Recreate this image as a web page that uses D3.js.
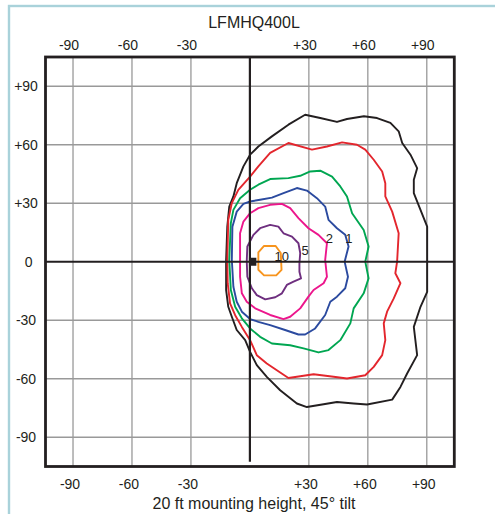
<!DOCTYPE html>
<html>
<head>
<meta charset="utf-8">
<script src="https://cdn.jsdelivr.net/npm/d3@7"></script>
<style>
  html, body { margin: 0; padding: 0; background: #fff; }
  svg { display: block; }
  text { font-family: "Liberation Sans", Arial, sans-serif; fill: #231f20; }
</style>
</head>
<body>
<svg id="chart" width="495" height="514"></svg>
<script>
// ---- data (degrees) ----
const title = "LFMHQ400L";
const subtitle = "20 ft mounting height, 45\u00b0 tilt";
const xTicks = [-90, -60, -30, 30, 60, 90];
const yTicks = [90, 60, 30, 0, -30, -60, -90];
const tickLabel = v => v > 0 ? "+" + v : String(v);

const contourBlack = [
  [-12.1,0.9],[-11.5,18.0],[-10.5,28.3],[-8.4,33.5],[-6.7,40.3],[-3.3,48.9],[0.1,54.9],[4.3,59.1],
  [11.2,64.3],[19.6,70.3],[28.1,75.4],[35.8,73.7],[44.3,71.7],[49.4,73.2],[58.0,74.6],[64.7,73.7],
  [71.5,71.2],[75.7,66.9],[77.5,60.9],[81.7,54.9],[85.1,48.0],[83.4,42.0],[83.4,35.2],[86.8,26.6],
  [90.2,18.0],[90.2,0.9],[90.2,-15.4],[86.8,-23.1],[83.4,-33.4],[85.1,-47.9],[80.0,-57.3],[76.6,-64.2],
  [72.4,-70.7],[59.6,-73.2],[52.8,-72.7],[44.3,-71.9],[37.5,-73.1],[29.0,-74.5],[23.9,-72.7],[15.4,-65.9],
  [8.6,-59.0],[3.5,-53.0],[0.1,-46.2],[-2.4,-40.2],[-6.7,-35.0],[-9.2,-28.2],[-11.0,-23.1],[-12.1,-14.5]
];
const contourRed = [
  [-11.5,0.9],[-11.0,21.5],[-9.2,30.1],[-5.9,36.9],[0.1,43.7],[4.3,48.9],[10.3,55.8],[19.6,60.9],
  [31.6,57.5],[39.2,59.1],[46.9,61.2],[54.5,60.0],[58.7,57.5],[63.0,52.3],[67.3,46.3],[68.9,40.3],
  [68.9,33.5],[72.4,25.7],[75.7,14.6],[74.9,0.05],[74.0,-5.9],[76.6,-11.0],[73.2,-18.8],[69.8,-25.6],
  [68.1,-31.6],[68.9,-40.2],[67.3,-47.9],[63.0,-53.9],[58.7,-58.2],[49.4,-59.9],[42.6,-59.0],[32.4,-57.7],
  [25.6,-58.7],[19.6,-59.6],[13.7,-55.6],[8.6,-52.2],[3.5,-47.9],[0.1,-40.2],[-4.1,-33.4],[-7.5,-27.4],
  [-10.1,-21.3],[-11.3,-11.0]
];
const contourGreen = [
  [-10.5,0.9],[-9.7,19.8],[-8.4,26.6],[-5.0,32.6],[0.1,36.9],[4.3,39.5],[10.3,42.4],[19.6,42.9],
  [25.6,44.1],[30.7,46.3],[35.8,46.7],[41.8,43.7],[46.0,38.6],[49.4,33.5],[52.0,24.9],[57.9,16.3],
  [60.4,7.8],[58.7,0.05],[60.4,-8.5],[57.9,-16.2],[52.8,-23.9],[51.1,-31.6],[46.0,-40.2],[40.0,-45.3],
  [34.9,-46.5],[27.3,-44.4],[20.5,-42.8],[11.2,-41.9],[5.2,-38.5],[0.1,-34.2],[-4.1,-29.0],[-7.5,-23.1],
  [-9.7,-14.5]
];
const contourBlue = [
  [-9.2,0.9],[-8.9,18.0],[-6.7,25.7],[-3.3,29.7],[0.1,30.9],[5.2,31.8],[11.2,32.9],[17.1,35.2],
  [23.9,37.8],[29.0,36.5],[34.1,32.6],[38.3,28.3],[40.0,21.5],[44.3,17.2],[48.5,13.8],[50.2,7.8],
  [48.2,0.05],[49.9,-7.7],[48.5,-13.6],[44.3,-17.9],[40.9,-20.5],[38.3,-27.3],[33.2,-34.2],[28.1,-37.3],
  [24.7,-37.3],[17.9,-35.0],[10.3,-32.5],[4.3,-30.8],[0.1,-29.4],[-4.1,-25.6],[-6.7,-20.5],[-8.4,-12.8]
];
const contourPink = [
  [-5.0,0.9],[-5.0,14.6],[-3.3,20.6],[0.1,24.9],[4.3,27.5],[10.3,29.2],[16.3,29.7],[20.5,27.5],
  [24.7,22.4],[29.8,17.2],[34.9,13.8],[39.2,9.5],[38.3,0.9],[39.2,-7.7],[37.5,-11.0],[32.4,-14.5],
  [29.8,-17.9],[25.6,-23.9],[20.5,-28.2],[17.1,-29.4],[10.3,-27.3],[2.7,-23.9],[-1.6,-20.5],[-4.1,-16.2],
  [-5.0,-7.7]
];
const contourPurple = [
  [-1.6,0.4],[-1.3,7.8],[1.8,13.8],[5.2,17.2],[10.3,18.9],[14.5,18.0],[17.1,14.6],[21.4,12.9],
  [24.7,9.5],[25.6,4.4],[25.2,-0.8],[25.2,-5.1],[26.0,-8.5],[22.2,-10.2],[18.8,-11.9],[16.3,-16.2],
  [12.9,-18.2],[7.8,-19.3],[3.5,-17.1],[1.0,-13.6],[-1.3,-7.7]
];
const contourOrange = [
  [7.2,8.1],[13.1,8.1],[15.7,4.5],[16.1,-4.2],[13.4,-7.0],[7.2,-7.0],[4.3,-4.1],[4.3,4.8]
];
const contourLabels = [
  { text: "10", x: 16.2, y: 2.7 },
  { text: "5",  x: 28.1, y: 5.8 },
  { text: "2",  x: 40.4, y: 11.9 },
  { text: "1",  x: 50.3, y: 12.2 }
];
const aimPoint = [1.4, 0];

const contours = [
  { pts: contourBlack,  color: "#231f20" },
  { pts: contourRed,    color: "#e3262d" },
  { pts: contourGreen,  color: "#00a651" },
  { pts: contourBlue,   color: "#2b4a9f" },
  { pts: contourPink,   color: "#ec168c" },
  { pts: contourPurple, color: "#6e2f7f" },
  { pts: contourOrange, color: "#f7941d" }
];

// ---- drawing ----
const svg = d3.select("#chart");
const x = d3.scaleLinear().domain([-104, 104]).range([45.5, 454.3]);
const y = d3.scaleLinear().domain([-105, 105]).range([466.5, 57]);

// outer light-blue frame
svg.append("rect").attr("x", 9).attr("y", 6).attr("width", 520).attr("height", 540)
  .attr("fill", "#fff").attr("stroke", "#a9d2da").attr("stroke-width", 2.4);

// grid
const g = svg.append("g");
g.selectAll("line.gx").data(xTicks).join("line")
  .attr("x1", d => x(d)).attr("x2", d => x(d))
  .attr("y1", y(105)).attr("y2", y(-105))
  .attr("stroke", "#999").attr("stroke-width", 1.3);
g.selectAll("line.gy").data(yTicks.filter(d => d !== 0)).join("line")
  .attr("y1", d => y(d)).attr("y2", d => y(d))
  .attr("x1", x(-104)).attr("x2", x(104))
  .attr("stroke", "#999").attr("stroke-width", 1.3);

// contours
const line = d3.line().x(d => x(d[0])).y(d => y(d[1])).curve(d3.curveLinearClosed);
svg.append("g").selectAll("path").data(contours).join("path")
  .attr("d", d => line(d.pts))
  .attr("fill", "none")
  .attr("stroke", d => d.color)
  .attr("stroke-width", 1.9)
  .attr("stroke-linejoin", "round");

// center axes
svg.append("line").attr("x1", x(0)).attr("x2", x(0)).attr("y1", y(105)).attr("y2", y(-102.5))
  .attr("stroke", "#231f20").attr("stroke-width", 2.2);
svg.append("line").attr("x1", x(-104)).attr("x2", x(104)).attr("y1", y(0)).attr("y2", y(0))
  .attr("stroke", "#231f20").attr("stroke-width", 2.2);

// aim point
svg.append("rect")
  .attr("x", x(aimPoint[0]) - 3.7).attr("y", y(aimPoint[1]) - 4)
  .attr("width", 7.4).attr("height", 8).attr("fill", "#231f20");

// contour labels
svg.append("g").selectAll("text").data(contourLabels).join("text")
  .attr("x", d => x(d.x)).attr("y", d => y(d.y))
  .attr("text-anchor", "middle").attr("dy", "0.35em")
  .attr("font-size", 13).text(d => d.text);

// plot frame
svg.append("rect").attr("x", x(-104)).attr("y", y(105))
  .attr("width", x(104) - x(-104)).attr("height", y(-105) - y(105))
  .attr("fill", "none").attr("stroke", "#231f20").attr("stroke-width", 2.8);

// tick labels
svg.append("g").selectAll("text").data(xTicks).join("text")
  .attr("x", d => x(d) - 4).attr("y", 50)
  .attr("text-anchor", "middle").attr("font-size", 14).text(tickLabel);
svg.append("g").selectAll("text").data(xTicks).join("text")
  .attr("x", d => x(d) - 3).attr("y", 489)
  .attr("text-anchor", "middle").attr("font-size", 14).text(tickLabel);
svg.append("g").selectAll("text").data(yTicks).join("text")
  .attr("x", d => d === 0 ? 28.7 : 26).attr("y", d => y(d)).attr("dy", "0.36em")
  .attr("text-anchor", "middle").attr("font-size", 14).text(tickLabel);

// titles
svg.append("text").attr("x", 254).attr("y", 28.3).attr("text-anchor", "middle")
  .attr("font-size", 16).text(title);
svg.append("text").attr("x", 254).attr("y", 509).attr("text-anchor", "middle")
  .attr("font-size", 16).text(subtitle);
</script>
</body>
</html>
